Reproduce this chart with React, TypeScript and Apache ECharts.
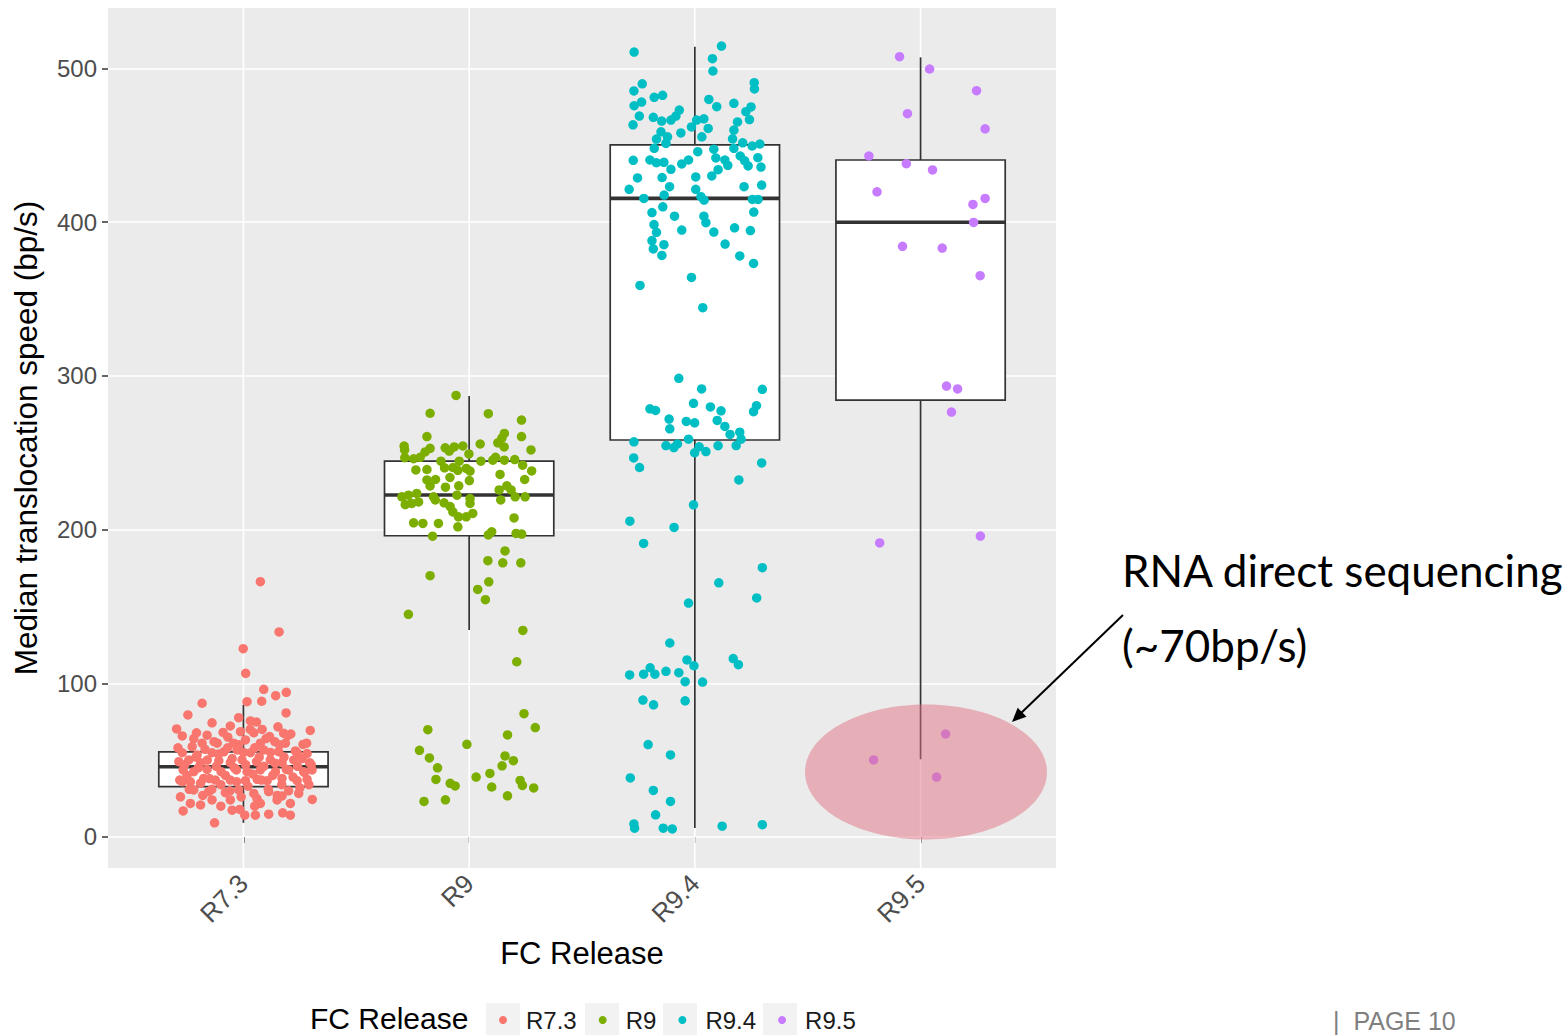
import React, { useEffect, useRef } from "react";
import * as echarts from "echarts";

const categories = ["R7.3", "R9", "R9.4", "R9.5"];
const colors = ["#F8766D", "#7CAE00", "#00BFC4", "#C77CFF"];
const yTicks = [0, 100, 200, 300, 400, 500];
const xTicks = [1, 2, 3, 4];

// box statistics per category
const boxLow = [9.2, 134.7, 5.9, 50.5];
const boxQ1 = [32.7, 196, 258.3, 284.2];
const boxMedian = [45.7, 222.5, 415.5, 400];
const boxQ3 = [55.4, 244.6, 450.4, 440.5];
const boxHigh = [86, 286.9, 514.2, 507.3];

// jittered points: [horizontal jitter (category units), speed bp/s]
const r73Points: [number, number][] = [
  [0.075, 166.1], [0.158, 133.4], [-0.001, 122.5], [0.01, 106.5], [0.09, 96.1], [0.143, 91.9], [0.19, 94.1],
  [-0.183, 87], [0.016, 88], [0.081, 88.3], [-0.246, 79.4], [0.189, 80.7], [-0.021, 77.6], [0.031, 75.5],
  [0.058, 74.8], [-0.296, 70.3], [-0.139, 74.3], [-0.058, 72.2], [0.153, 71.7], [0.296, 69.3], [-0.271, 65.7],
  [-0.208, 67.8], [-0.161, 66.2], [-0.069, 64.9], [-0.013, 68.5], [0.046, 67.8], [0.083, 70], [0.116, 65.3],
  [0.178, 67.5], [0.196, 65.9], [-0.227, 58.8], [-0.183, 61], [-0.116, 61], [-0.043, 61], [0.009, 63.1],
  [0.075, 61], [0.139, 62], [0.186, 61], [0.264, 60.2], [-0.271, 54.8], [-0.205, 53.4], [-0.139, 54.8],
  [-0.087, 55.4], [-0.028, 56.6], [0.031, 54.8], [0.09, 56.6], [0.156, 55.5], [0.238, 54.8], [0.282, 54.3],
  [-0.286, 49], [-0.242, 50.1], [-0.19, 48.3], [-0.109, 49.6], [-0.058, 48.3], [-0.006, 50.1], [0.058, 49],
  [0.119, 50.1], [0.171, 48.3], [0.223, 50.1], [0.293, 48.3], [-0.267, 43.6], [-0.22, 42.5], [-0.161, 43.9],
  [-0.099, 42.5], [-0.031, 43.6], [0.016, 42.5], [0.075, 43.6], [0.142, 42.5], [0.2, 43.6], [0.267, 42.5],
  [0.304, 43.6], [-0.282, 37], [-0.235, 35.9], [-0.176, 38.1], [-0.124, 37], [-0.058, 37], [0.009, 36.6],
  [0.061, 37.5], [0.105, 36.6], [0.171, 38.1], [0.238, 36.6], [0.282, 37.5], [-0.279, 26.1], [-0.22, 30.6],
  [-0.154, 29.5], [-0.08, 28.8], [-0.021, 30.6], [0.046, 28.3], [0.112, 29.5], [0.171, 26.7], [0.245, 28.3],
  [0.305, 24.4], [-0.235, 21.8], [-0.19, 20.8], [-0.139, 24.1], [-0.058, 24.1], [0.075, 21.8], [0.149, 24.1],
  [0.208, 21.8], [-0.267, 16.9], [-0.05, 17.4], [-0.016, 17.9], [0.053, 14.2], [0.112, 14.8], [0.174, 15.7],
  [0.208, 14.2], [0.006, 14.2], [-0.128, 9.2],
  [-0.29, 58], [-0.26, 47], [-0.25, 40], [-0.24, 31], [-0.22, 64], [-0.21, 52], [-0.2, 45], [-0.19, 35],
  [-0.18, 27], [-0.17, 57], [-0.16, 50], [-0.15, 38], [-0.14, 31], [-0.13, 62], [-0.12, 46], [-0.11, 54],
  [-0.1, 34], [-0.09, 68], [-0.08, 40], [-0.07, 58], [-0.06, 30], [-0.05, 51], [-0.04, 45], [-0.03, 36],
  [-0.02, 60], [-0.01, 26], [0.0, 55], [0.01, 47], [0.02, 33], [0.03, 70], [0.04, 41], [0.05, 58],
  [0.06, 25], [0.07, 52], [0.08, 37], [0.09, 46], [0.1, 64], [0.11, 31], [0.12, 55], [0.13, 40],
  [0.14, 48], [0.15, 27], [0.16, 60], [0.17, 34], [0.18, 52], [0.19, 44], [0.2, 30], [0.21, 67],
  [0.22, 39], [0.23, 56], [0.24, 46], [0.25, 32], [0.26, 51], [0.27, 42], [0.28, 61], [0.29, 34],
  [0.3, 47], [-0.27, 36], [0.05, 20], [-0.1, 20],
];

const r9Points: [number, number][] = [
  [-0.058, 287.3], [-0.173, 275.7], [0.085, 275.4], [0.232, 271.3], [-0.187, 260.5], [0.156, 262.6],
  [0.232, 260.5], [0.145, 259.5], [-0.288, 254.4], [-0.286, 251.8], [-0.173, 252.9], [-0.106, 253.2],
  [-0.066, 253.8], [-0.028, 254.4], [-0.088, 251.1], [0.049, 255.7], [0.127, 256.5], [0.155, 253.8],
  [0.274, 251.8], [-0.195, 250.5], [-0.001, 249.2], [-0.285, 246.8], [-0.246, 246.1], [-0.217, 247],
  [-0.125, 244.5], [-0.044, 244.5], [0.052, 244.5], [0.105, 245.2], [0.117, 247], [0.156, 245.2],
  [0.202, 245.6], [0.237, 241.9], [-0.236, 238.8], [-0.187, 239.1], [-0.109, 240.2], [-0.072, 240.4],
  [-0.05, 238.6], [-0.013, 239.8], [0.004, 238.1], [0.137, 235.9], [0.277, 238.2], [-0.187, 232.3],
  [-0.149, 232.6], [-0.085, 233.9], [0.001, 231.9], [0.246, 232.6], [-0.173, 228.4], [-0.105, 227.6],
  [-0.046, 228.5], [0.167, 228.5], [0.133, 225.8], [0.186, 225.8], [-0.298, 221.3], [-0.269, 222.4],
  [-0.232, 223.5], [-0.158, 221.3], [-0.054, 222.4], [0.004, 220.2], [0.204, 221.3], [0.248, 221.3],
  [-0.283, 216.3], [-0.254, 217], [-0.224, 218], [-0.15, 219.3], [-0.111, 217.4], [0.14, 219.3],
  [-0.084, 215], [0.004, 217], [-0.072, 211.5], [0.016, 210.5], [-0.047, 208.3], [-0.013, 208.3],
  [-0.246, 204.4], [-0.205, 204], [-0.136, 204], [0.199, 207.6], [-0.05, 201.8], [-0.162, 195.7],
  [0.085, 196.5], [0.1, 198.6], [0.208, 197.5], [0.233, 197.1], [0.159, 186.1], [0.083, 179.8],
  [0.149, 178.4], [0.229, 178.4], [-0.173, 170], [0.087, 166], [0.038, 161.1], [0.072, 154.4],
  [-0.269, 144.9], [0.238, 134.4], [0.211, 114], [0.243, 80.2], [0.293, 71.2], [-0.183, 69.8],
  [0.17, 66.4], [-0.01, 60.3], [-0.22, 56.4], [-0.176, 51.4], [0.159, 52.7], [0.196, 49.6],
  [-0.14, 45], [0.146, 46.3], [0.092, 41.3], [-0.147, 37.4], [0.031, 39], [-0.084, 34.9],
  [-0.062, 33.2], [0.226, 36.8], [0.236, 33.5], [0.1, 32.5], [0.286, 31.9], [0.17, 26.8],
  [-0.2, 23.1], [-0.105, 24.2],
];

const r94Points: [number, number][] = [
  [-0.269, 510.7], [0.118, 514.6], [0.078, 506.4], [0.08, 498.4], [-0.233, 490.1], [-0.27, 485.4],
  [0.263, 490.8], [0.264, 486.7], [-0.18, 481.3], [-0.143, 482.6], [-0.236, 478.2], [-0.269, 475.8],
  [0.062, 479.9], [0.097, 475.2], [0.173, 477.4], [0.249, 475], [0.226, 471.9], [-0.246, 469.1],
  [-0.274, 463.4], [-0.184, 468.3], [-0.147, 465.8], [-0.106, 466.5], [-0.069, 473], [-0.084, 469.1],
  [0.242, 466.8], [-0.062, 458.1], [-0.015, 462], [0.008, 466.5], [0.04, 467.3], [0.059, 461],
  [0.031, 455.6], [0.189, 465.3], [0.173, 460], [0.167, 454.3], [-0.15, 458.8], [-0.121, 455.6],
  [-0.17, 454.1], [-0.18, 448.1], [-0.128, 451.3], [0.212, 451.7], [0.254, 449.6], [0.288, 450.9],
  [0.173, 448.1], [0.084, 447.5], [0.013, 445.9], [-0.273, 440.3], [-0.199, 440.5], [-0.17, 438.7],
  [-0.137, 439], [-0.106, 434.4], [-0.058, 437.9], [-0.028, 440.5], [0.093, 441.8], [0.133, 440.5],
  [0.146, 437], [0.201, 443.1], [0.221, 440], [0.236, 436.6], [0.279, 442], [0.293, 435.9],
  [0.103, 434.2], [0.075, 430.1], [-0.254, 428.8], [-0.291, 421.4], [-0.145, 429.1], [-0.112, 423.1],
  [-0.136, 417.7], [0.004, 429.5], [0.004, 421.4], [0.027, 416.6], [0.041, 414.4], [0.218, 423.1],
  [0.296, 424.2], [-0.226, 415.5], [0.255, 414.8], [0.28, 414.8], [-0.19, 406.3], [-0.142, 410],
  [-0.09, 403.9], [0.04, 403.9], [0.049, 399.7], [0.261, 406.6], [-0.181, 398.5], [-0.17, 393.4],
  [-0.058, 394.9], [0.084, 393.6], [0.176, 396.4], [0.246, 394.6], [-0.19, 388.1], [-0.137, 385.4],
  [0.134, 385.8], [-0.184, 382.6], [-0.146, 378.4], [0.199, 378.1], [0.26, 373.2], [-0.015, 364.1],
  [-0.243, 358.9], [0.035, 344.4], [-0.071, 298.4], [0.03, 291.5], [0.299, 291.3], [-0.006, 282.2],
  [0.069, 279.8], [0.116, 277.3], [0.273, 280.6], [0.26, 276.7], [-0.199, 278.6], [-0.174, 277.5],
  [-0.114, 271.9], [-0.111, 265.6], [-0.038, 270.4], [-0.001, 269.5], [0.099, 271], [0.133, 267.1],
  [0.156, 261.9], [0.199, 263.4], [0.205, 258.8], [0.183, 254.7], [0.103, 254.6], [-0.028, 258.8],
  [0.019, 253.9], [-0.001, 250], [0.049, 250.8], [-0.128, 254.7], [-0.093, 253.4], [-0.077, 255.7],
  [-0.27, 257.1], [-0.271, 246.6], [-0.245, 240.4], [0.296, 243.4], [0.195, 232.3], [-0.006, 216.1],
  [-0.288, 205.5], [-0.092, 201.4], [-0.227, 191], [0.299, 175.2], [0.106, 165.4], [0.274, 155.5],
  [-0.028, 152.2], [-0.111, 126.2], [-0.035, 115.2], [-0.004, 111.4], [0.17, 116.1], [0.193, 112.1],
  [-0.198, 110.1], [-0.289, 105.4], [-0.227, 105.9], [-0.177, 105.9], [-0.128, 107.8], [-0.071, 106.9],
  [-0.043, 101], [0.034, 100.8], [-0.23, 89.1], [-0.183, 86], [-0.043, 88.6], [-0.207, 60.1],
  [-0.108, 53.4], [-0.286, 38.4], [-0.184, 30.3], [-0.108, 23.1], [-0.174, 14.4], [-0.27, 8.5],
  [-0.267, 5.7], [-0.14, 5.7], [-0.1, 5.2], [0.121, 7], [0.299, 8],
];

const r95Points: [number, number][] = [
  [-0.093, 507.7], [0.04, 499.7], [0.248, 485.6], [-0.058, 470.6], [0.286, 460.8], [-0.229, 443.1],
  [-0.063, 438.1], [0.053, 434], [-0.193, 419.8], [0.286, 415.5], [0.232, 411.6], [0.235, 399.9],
  [-0.08, 384.3], [0.096, 383.2], [0.264, 365.2], [0.115, 293.4], [0.164, 291.5], [0.137, 276.5],
  [-0.181, 191.3], [0.265, 195.8], [-0.208, 50.1], [0.111, 67], [0.071, 39],
];

const groups = [r73Points, r9Points, r94Points, r95Points];

const FONT = "'Liberation Sans', Arial, sans-serif";

export default function App() {
  const ref = useRef<HTMLDivElement>(null);

  useEffect(() => {
    if (!ref.current) return;
    const chart = echarts.init(ref.current, null, { renderer: "svg" });

    const boxData = categories.map((_, i) => [i + 1, boxLow[i], boxQ1[i], boxMedian[i], boxQ3[i], boxHigh[i]]);

    const scatterSeries = categories.map((name, i) => ({
      name,
      type: "scatter",
      z: 4,
      symbol: "circle",
      symbolSize: 9.5,
      itemStyle: { color: colors[i], opacity: 1 },
      data: groups[i].map(([j, v]) => [i + 1 + j, v]),
      silent: true,
    }));

    const option: any = {
      animation: false,
      backgroundColor: "#ffffff",
      grid: {
        left: 108,
        right: 511,
        top: 8,
        bottom: 167,
        show: true,
        backgroundColor: "#EBEBEB",
        borderWidth: 0,
      },
      xAxis: {
        type: "value",
        min: 0.4,
        max: 4.6,
        axisLine: { show: false },
        splitLine: { show: false },
        axisTick: {
          show: true,
          customValues: xTicks,
          length: 6,
          lineStyle: { color: "#333333", width: 1.5 },
        },
        axisLabel: {
          customValues: xTicks,
          formatter: (v: number) => categories[Math.round(v) - 1] ?? "",
          rotate: 45,
          margin: 11,
          color: "#4D4D4D",
          fontSize: 26,
          fontFamily: FONT,
        },
        name: "FC Release",
        nameLocation: "middle",
        nameGap: 70,
        nameTextStyle: { fontSize: 31, color: "#000000", fontFamily: FONT },
      },
      yAxis: {
        type: "value",
        min: -20.2,
        max: 539.4,
        axisLine: { show: false },
        splitLine: { show: true, lineStyle: { color: "#FFFFFF", width: 1.6 } },
        axisTick: {
          show: true,
          customValues: yTicks,
          length: 6,
          lineStyle: { color: "#333333", width: 1.5 },
        },
        axisLabel: {
          customValues: yTicks,
          margin: 11,
          color: "#4D4D4D",
          fontSize: 24,
          fontFamily: FONT,
        },
        name: "Median translocation speed (bp/s)",
        nameLocation: "middle",
        nameRotate: 90,
        nameGap: 66,
        nameTextStyle: { fontSize: 31.5, color: "#000000", fontFamily: FONT },
      },
      legend: {
        data: categories,
        left: 499,
        top: 1008,
        padding: 0,
        icon: "circle",
        itemWidth: 8,
        itemHeight: 8,
        itemGap: 22,
        selectedMode: false,
        textStyle: { fontSize: 24, color: "#1A1A1A", fontFamily: FONT, padding: [0, 0, 0, 14] },
      },
      series: [
        {
          type: "custom",
          name: "vgrid",
          z: 1,
          silent: true,
          data: xTicks.map((x) => [x, 0]),
          encode: { x: 0, y: 1 },
          renderItem: (params: any, api: any) => {
            const p = api.coord([api.value(0), 0]);
            const cs = params.coordSys;
            return {
              type: "line",
              shape: { x1: p[0], y1: cs.y, x2: p[0], y2: cs.y + cs.height },
              style: { stroke: "#FFFFFF", lineWidth: 1.6 },
            };
          },
        },
        {
          type: "custom",
          name: "boxes",
          z: 2,
          silent: true,
          data: boxData,
          encode: { x: 0, y: [1, 2, 3, 4, 5] },
          renderItem: (params: any, api: any) => {
            const x = api.value(0);
            const half = 0.375;
            const pLow = api.coord([x, api.value(1)]);
            const pQ1 = api.coord([x, api.value(2)]);
            const pQ3 = api.coord([x, api.value(4)]);
            const pHigh = api.coord([x, api.value(5)]);
            const tl = api.coord([x - half, api.value(4)]);
            const br = api.coord([x + half, api.value(2)]);
            const mL = api.coord([x - half, api.value(3)]);
            const mR = api.coord([x + half, api.value(3)]);
            const stroke = "#333333";
            return {
              type: "group",
              children: [
                { type: "line", shape: { x1: pHigh[0], y1: pHigh[1], x2: pQ3[0], y2: pQ3[1] }, style: { stroke, lineWidth: 1.7 } },
                { type: "line", shape: { x1: pQ1[0], y1: pQ1[1], x2: pLow[0], y2: pLow[1] }, style: { stroke, lineWidth: 1.7 } },
                {
                  type: "rect",
                  shape: { x: tl[0], y: tl[1], width: br[0] - tl[0], height: br[1] - tl[1] },
                  style: { fill: "#FFFFFF", stroke, lineWidth: 1.7 },
                },
                { type: "line", shape: { x1: mL[0], y1: mL[1], x2: mR[0], y2: mR[1] }, style: { stroke, lineWidth: 3.6 } },
              ],
            };
          },
        },
        ...scatterSeries,
      ],
      graphic: [
        { type: "rect", z: 0, shape: { x: 486, y: 1003, width: 34, height: 40 }, style: { fill: "#F2F2F2" } },
        { type: "rect", z: 0, shape: { x: 585, y: 1003, width: 34, height: 40 }, style: { fill: "#F2F2F2" } },
        { type: "rect", z: 0, shape: { x: 663, y: 1003, width: 34, height: 40 }, style: { fill: "#F2F2F2" } },
        { type: "rect", z: 0, shape: { x: 763, y: 1003, width: 34, height: 40 }, style: { fill: "#F2F2F2" } },
        {
          type: "text",
          z: 10,
          style: { x: 310, y: 1018, text: "FC Release", font: `30px ${FONT}`, fill: "#000000", verticalAlign: "middle" },
        },
        {
          type: "ellipse",
          z: 100,
          silent: true,
          shape: { cx: 926, cy: 772, rx: 121, ry: 67.5 },
          style: { fill: "rgba(225,113,131,0.5)" },
        },
        {
          type: "line",
          z: 100,
          shape: { x1: 1123, y1: 615, x2: 1018, y2: 716 },
          style: { stroke: "#000000", lineWidth: 2 },
        },
        {
          type: "polygon",
          z: 100,
          shape: { points: [[1012, 722], [1026.5, 716.8], [1017.7, 707.8]] },
          style: { fill: "#000000" },
        },
        {
          type: "text",
          z: 100,
          style: { x: 1122, y: 570, text: "RNA direct sequencing", font: `44px Lato, 'Liberation Sans', sans-serif`, fill: "#000000", verticalAlign: "middle" },
        },
        {
          type: "text",
          z: 100,
          style: { x: 1122, y: 645, text: "(~70bp/s)", font: `44px Lato, 'Liberation Sans', sans-serif`, fill: "#000000", verticalAlign: "middle" },
        },
        {
          type: "text",
          z: 100,
          style: { x: 1333, y: 1021, text: "|  PAGE 10", font: `25px ${FONT}`, fill: "#7F7F7F", verticalAlign: "middle" },
        },
      ],
    };

    chart.setOption(option);
    return () => chart.dispose();
  }, []);

  return (
    <div
      ref={ref}
      style={{ position: "absolute", left: 0, top: 0, width: 1567, height: 1035, background: "#ffffff" }}
    />
  );
}
